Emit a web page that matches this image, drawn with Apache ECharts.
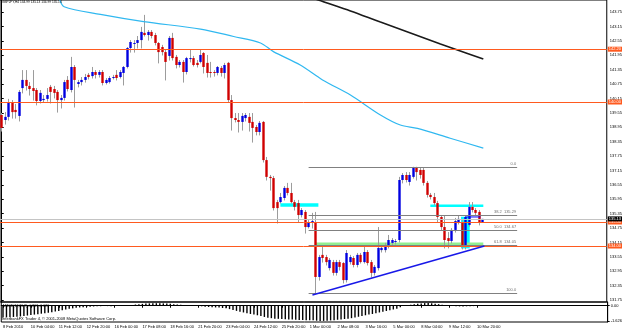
<!DOCTYPE html>
<html><head><meta charset="utf-8">
<script src="https://cdn.jsdelivr.net/npm/echarts@6/dist/echarts.min.js"></script>
<style>html,body{margin:0;padding:0;background:#fff}#c{width:625px;height:330px}</style>
</head><body><div id="c"></div>
<script>
// ---------- data ----------
const headerText = 'GBPJPY,H4 134.99 135.13 134.99 135.13';
const macdText = 'MACD(12,26,9) -0.863 -0.026';
const copyrightText = 'InterbankFX Trader 4, \u00a9 2001-2008 MetaQuotes Software Corp.';

const tickLabels = ['8 Feb 2010','10 Feb 04:00','11 Feb 12:00','12 Feb 20:00','16 Feb 00:00','17 Feb 08:00',
  '18 Feb 16:00','21 Feb 20:00','23 Feb 04:00','24 Feb 12:00','25 Feb 20:00','1 Mar 00:00','2 Mar 08:00',
  '3 Mar 16:00','5 Mar 00:00','8 Mar 04:00','9 Mar 12:00','10 Mar 20:00'];
const priceTicks = [131.75,132.35,132.95,133.55,134.15,134.75,135.35,135.95,136.55,137.15,137.75,
  138.35,138.95,139.55,140.15,140.75,141.35,141.95,142.55,143.15,143.75];
const macdTicks = [0.283, 0, -1.626];

const opens = [
139.46,139.25,139.38,140.00,139.67,139.42,140.58,140.92,140.67,140.58,
140.50,140.04,140.08,140.13,140.63,140.54,140.42,140.08,140.17,140.92,
140.50,141.46,140.75,140.83,140.92,141.13,141.08,141.25,141.13,141.25,
140.79,140.83,141.00,141.13,141.04,141.21,141.46,142.25,142.42,142.46,
142.58,142.88,142.79,142.92,142.79,142.46,142.29,142.08,141.92,142.67,
141.88,141.54,141.67,141.25,141.79,141.83,141.63,141.67,142.04,141.63,
141.25,141.25,141.21,141.42,141.21,141.63,140.08,139.33,139.25,139.17,
139.33,139.38,139.17,138.96,138.75,139.17,137.58,136.88,136.83,135.83,
135.83,136.00,136.42,136.21,135.83,135.79,135.29,135.42,134.79,135.00,
135.00,132.71,133.63,133.54,133.08,133.33,132.88,133.33,133.29,132.58,
133.33,133.50,133.21,133.63,133.33,133.75,133.33,132.88,133.08,133.83,
133.83,133.96,134.13,134.17,134.25,136.75,136.96,136.67,136.88,137.25,
137.17,137.17,136.63,136.13,136.04,135.79,135.21,134.79,134.33,134.21,
134.67,135.00,135.00,133.96,134.88,135.63,135.50,135.42,134.99];
const highs = [
139.54,139.58,140.13,140.08,139.92,140.50,141.33,141.33,140.83,141.33,
140.58,140.50,140.29,140.58,140.71,140.67,140.50,140.29,140.92,141.08,
141.88,141.54,140.92,141.04,141.17,141.21,141.46,141.33,141.33,141.33,
141.00,141.08,141.13,141.33,141.33,141.50,142.29,142.58,142.58,142.75,
143.13,143.63,143.00,143.00,142.88,142.50,142.38,142.17,142.75,142.88,
141.96,141.75,141.75,141.88,142.17,141.92,141.75,142.17,142.08,141.96,
141.67,141.33,141.50,141.50,141.63,141.67,140.29,139.54,139.54,139.54,
139.54,139.54,139.54,139.04,139.21,139.21,137.71,136.96,136.92,135.92,
136.21,136.50,136.63,136.63,135.92,135.92,135.58,135.50,135.08,135.38,
135.42,133.63,133.96,133.63,133.50,133.42,133.42,133.42,133.33,133.83,
133.63,133.58,133.71,133.71,134.04,133.83,133.42,133.21,134.79,134.04,
134.13,134.46,134.33,134.29,136.88,137.04,137.08,137.08,137.30,137.30,
137.29,137.25,136.71,136.21,136.21,135.88,135.29,135.29,134.58,134.75,
135.17,135.29,135.13,135.29,135.83,135.83,135.58,135.50,135.13];
const lows = [
138.79,139.08,139.25,139.33,139.33,139.21,140.38,140.50,140.29,140.08,
139.88,139.96,140.00,140.04,139.96,140.17,139.58,139.75,140.08,140.46,
140.42,139.79,140.63,140.71,140.83,140.96,141.00,141.00,141.04,140.71,
140.75,140.79,140.96,140.92,141.00,140.71,141.42,142.08,142.08,142.25,
142.25,142.75,142.58,142.67,142.38,141.63,141.96,140.92,141.75,141.75,
141.42,141.46,140.83,141.17,141.67,141.50,141.46,141.63,141.21,141.04,
141.04,141.08,141.13,141.08,141.00,140.00,138.83,139.17,138.75,138.83,
139.21,138.79,138.33,138.63,138.63,137.50,136.75,136.33,135.50,134.96,
135.79,135.92,136.13,135.79,135.50,135.00,135.21,134.54,134.75,134.75,
132.04,132.58,133.33,133.21,133.00,132.79,132.79,133.00,132.46,132.50,
133.25,133.13,133.13,133.29,133.29,133.21,132.71,132.79,133.00,133.75,
133.75,133.92,134.04,134.08,134.17,136.63,136.67,136.54,136.83,136.75,
136.83,136.54,136.04,135.96,135.71,135.00,134.67,133.92,133.92,134.13,
134.58,134.92,133.88,133.88,134.83,135.42,135.29,134.88,134.99];
const closes = [
138.92,139.38,140.00,139.58,139.58,140.42,140.92,140.67,140.54,140.46,
140.04,140.38,140.13,140.29,140.42,140.38,140.08,140.17,140.83,140.54,
141.46,140.92,140.83,140.92,141.04,141.04,141.25,141.13,141.25,140.79,
140.92,141.00,141.04,141.00,141.25,141.46,142.25,142.50,142.46,142.58,
142.92,142.79,142.92,142.75,142.46,142.08,142.08,141.67,142.67,141.83,
141.54,141.67,141.25,141.83,141.83,141.54,141.54,141.96,141.46,141.21,
141.21,141.21,141.46,141.21,141.54,140.08,139.33,139.25,139.17,139.42,
139.46,139.13,138.92,138.75,139.13,137.58,136.88,136.83,135.58,135.58,
136.04,136.42,136.21,135.83,135.63,135.29,135.50,134.79,135.00,135.04,
132.71,133.54,133.50,133.33,133.42,132.88,133.33,133.13,132.58,133.71,
133.54,133.21,133.63,133.33,133.75,133.29,132.88,133.13,133.92,133.92,
134.04,134.25,134.25,134.21,136.75,136.96,136.75,136.96,137.25,137.08,
136.96,136.63,136.13,136.04,135.79,135.21,134.79,134.25,134.21,134.67,
135.04,135.13,133.96,135.21,135.63,135.50,135.38,134.96,135.13];

const macdHist = [
-1.25,-1.25,-1.22,-1.2,-1.18,-1.15,-1.1,-1.05,-1.0,-0.95,-0.9,-0.85,-0.8,-0.75,-0.7,
-0.62,-0.55,-0.48,-0.4,-0.33,
-0.28,-0.22,-0.18,-0.15,-0.12,-0.1,-0.08,-0.06,-0.05,-0.04,-0.04,-0.05,-0.04,-0.03,-0.02,0.01,
0.05,0.09,0.13,0.17,0.2,0.23,0.25,0.27,0.27,0.26,0.25,0.23,0.2,
0.17,0.14,0.11,0.08,0.05,0.03,0.01,-0.02,
-0.06,-0.1,-0.13,-0.15,-0.18,-0.2,-0.24,-0.28,-0.36,-0.45,-0.55,
-0.65,-0.72,-0.8,-0.88,-0.95,-1.02,-1.1,-1.2,-1.28,-1.33,-1.38,-1.4,
-1.42,-1.45,-1.47,-1.48,-1.5,-1.52,-1.53,-1.54,-1.55,-1.56,-1.6,-1.626,-1.62,-1.6,-1.57,-1.54,-1.5,-1.46,-1.42,-1.38,-1.33,
-1.25,-1.18,-1.1,-1.02,-0.95,-0.88,-0.8,-0.72,-0.64,-0.56,-0.48,-0.4,-0.32,-0.15,0.0,
0.06,0.11,0.16,0.21,0.25,0.283,0.28,0.26,0.22,0.17,0.11,0.06,
0.03,-0.02,-0.05,-0.07,-0.08,-0.06,-0.05,-0.04,-0.03,-0.03,-0.026];

// moving averages: [bar, price] points
const maFast = [[16.5,144.32],[17.9,143.97],[28.3,143.65],[40.7,143.35],[57,143.04],[66.5,142.73],
  [74.2,142.46],[77.9,142.10],[85.6,141.54],[92,140.92],[100,140.29],[108.6,139.46],[114.3,139.04],
  [119.2,138.90],[128.6,138.49],[138.1,138.08]];
const maSlow = [[88,144.40],[90.8,144.25],[100,143.79],[108.6,143.33],[117.2,142.88],[125.8,142.42],
  [131.5,142.13],[138.1,141.79]];

// drawn objects
const levelLines = [142.20, 140.00, 135.00, 134.00];
const bidPrice = 135.13;
const fibHigh = 137.30, fibLow = 132.04, fibFrom = 88, fibTo = 147.8;
const fibRatios = [0, 38.2, 50, 61.8, 100];
const trendLine = [[89.1, 131.96], [138.4, 134.00]];
const blueSegment = [[133, 135.21], [137.3, 135.21]];
const cyanZones = [[79.9, 90.8, 135.64, 135.78], [122.9, 138.1, 135.625, 135.73], [131.7, 134.2, 133.90, 135.22]];
const greenZones = [[89.9, 138.1, 134.04, 134.15]];

// ---------- chart ----------
const SLOTS = 174;
const slotNames = Array.from({length: SLOTS}, (_, i) => String(i));
const FONT = '"Liberation Sans", Arial, sans-serif';
const candleData = opens.map((o, i) => [i, o, closes[i], lows[i], highs[i]]);
const fibLevels = fibRatios.map(r => ({ r, p: fibHigh - (fibHigh - fibLow) * r / 100 }));
const labelAt = idx => idx % 8 === 0 && idx <= 136;

function zoneSeries(data, color) {
  return {
    type: 'custom', xAxisIndex: 0, yAxisIndex: 0, z: 1, silent: true, clip: true,
    data: data,
    renderItem: (params, api) => {
      const a = api.coord([api.value(0), api.value(3)]);
      const b = api.coord([api.value(1), api.value(2)]);
      return { type: 'rect', shape: { x: a[0], y: a[1], width: b[0] - a[0], height: b[1] - a[1] },
               style: { fill: color } };
    }
  };
}

const levelMarks = levelLines.map(v => ({ yAxis: v,
  lineStyle: { color: '#FF5A1F', width: 1, type: 'solid' },
  label: { show: true, position: 'end', distance: 1, formatter: v.toFixed(2), color: '#fff',
           backgroundColor: '#FF5A1F', padding: [1, 1, 0, 1], fontSize: 4, fontFamily: FONT } }));
levelMarks.unshift({ yAxis: bidPrice, lineStyle: { color: '#C4C4C4', width: 1, type: 'solid' },
  label: { show: false } });
const bidLabel = { yAxis: bidPrice, lineStyle: { color: '#C4C4C4', width: 1, type: 'solid' },
  label: { show: true, position: 'end', distance: 1, formatter: bidPrice.toFixed(2), color: '#fff',
           backgroundColor: '#000', padding: [1, 1, 0, 1], fontSize: 4, fontFamily: FONT } };

const fibMarks = fibLevels.map(f => [
  { coord: [fibFrom, f.p], lineStyle: { color: '#808080', width: 1, type: 'solid' },
    label: { show: true, position: 'insideEndTop', distance: 1, color: '#707070', fontSize: 4, fontFamily: FONT,
      formatter: (f.r === 0 || f.r === 100) ? f.r.toFixed(1) : f.r.toFixed(1) + '  ' + f.p.toFixed(2) } },
  { coord: [fibTo, f.p] }
]);

const option = {
  animation: false,
  backgroundColor: '#fff',
  grid: [
    { left: 0, top: 0, width: 609, height: 302, show: true, borderColor: '#000', borderWidth: 1 },
    { left: 0, top: 302, width: 609, height: 20, show: true, borderColor: '#000', borderWidth: 1 }
  ],
  xAxis: [
    { type: 'value', gridIndex: 0, min: -0.5, max: SLOTS - 0.5, show: false },
    { type: 'category', gridIndex: 1, data: slotNames, boundaryGap: true, position: 'bottom',
      axisLine: { show: true, lineStyle: { color: '#000' } },
      axisTick: { show: true, interval: labelAt, alignWithLabel: true, length: 2, lineStyle: { color: '#000' } },
      axisLabel: { interval: labelAt, formatter: (v, idx) => tickLabels[idx / 8] || '', align: 'left',
                   fontSize: 4, fontFamily: FONT, color: '#000', margin: 3 },
      splitLine: { show: false } }
  ],
  yAxis: [
    { type: 'value', gridIndex: 0, position: 'right', min: 131.667, max: 144.25,
      axisLine: { show: true, lineStyle: { color: '#000' } },
      axisTick: { show: true, length: 2, customValues: priceTicks, lineStyle: { color: '#000' } },
      axisLabel: { customValues: priceTicks, formatter: v => v.toFixed(2), fontSize: 4, fontFamily: FONT,
                   color: '#000', margin: 3 },
      splitLine: { show: false } },
    { type: 'value', gridIndex: 1, position: 'right', min: -1.74, max: 0.40,
      axisLine: { show: true, lineStyle: { color: '#000' } },
      axisTick: { show: true, length: 2, customValues: macdTicks, lineStyle: { color: '#000' } },
      axisLabel: { customValues: macdTicks, formatter: v => (v === 0 ? '0.00' : String(v)), fontSize: 4,
                   fontFamily: FONT, color: '#000', margin: 3 },
      splitLine: { show: false } }
  ],
  series: [
    zoneSeries(cyanZones, '#00FFFF'),
    zoneSeries(greenZones, '#90EE90'),
    { type: 'custom', xAxisIndex: 0, yAxisIndex: 0, z: 3, clip: true, silent: true,
      data: candleData,
      renderItem: (params, api) => {
        const i = api.value(0), o = api.value(1), c = api.value(2), l = api.value(3), h = api.value(4);
        const pH = api.coord([i, h]), pL = api.coord([i, l]);
        const pO = api.coord([i, o]), pC = api.coord([i, c]);
        const x = Math.round(pH[0] - 0.5) + 0.5;
        const top = Math.min(pO[1], pC[1]);
        const ht = Math.max(1, Math.abs(pO[1] - pC[1]));
        const bw = 2.4;
        return { type: 'group', children: [
          { type: 'line', shape: { x1: x, y1: pH[1], x2: x, y2: pL[1] + 0.5 }, style: { stroke: '#9c9c9c', lineWidth: 1 } },
          { type: 'rect', shape: { x: x - bw / 2, y: top, width: bw, height: ht },
            style: { fill: c >= o ? '#0000E0' : '#D00000' } }
        ] };
      } },
    { type: 'line', xAxisIndex: 0, yAxisIndex: 0, z: 4, data: maFast, showSymbol: false, smooth: 0.3,
      silent: true, clip: true, lineStyle: { color: '#30B8F0', width: 1.2 } },
    { type: 'line', xAxisIndex: 0, yAxisIndex: 0, z: 4, data: maSlow, showSymbol: false, smooth: 0.3,
      silent: true, clip: true, lineStyle: { color: '#1a1a1a', width: 1.6 } },
    { type: 'line', xAxisIndex: 0, yAxisIndex: 0, z: 5, data: blueSegment, showSymbol: false,
      silent: true, lineStyle: { color: '#0000FF', width: 1 } },
    { type: 'line', xAxisIndex: 0, yAxisIndex: 0, z: 5, data: trendLine, showSymbol: false,
      silent: true, lineStyle: { color: '#1818E8', width: 1.5 },
      markLine: { silent: true, animation: false, symbol: ['none', 'none'],
                  data: levelMarks.concat(fibMarks).concat([bidLabel]) } },
    { type: 'bar', xAxisIndex: 1, yAxisIndex: 1, data: macdHist, barWidth: 1.4, silent: true,
      itemStyle: { color: '#000' } }
  ],
  graphic: [
    { type: 'text', left: 2, top: 1, z: 100, silent: true,
      style: { text: headerText, fontSize: 3.2, fontFamily: FONT, fill: '#000' } },
    { type: 'text', left: 3, top: 304, z: 100, silent: true,
      style: { text: macdText, fontSize: 3.5, fontFamily: FONT, fill: '#000' } },
    { type: 'text', left: 2, top: 316.6, z: 100, silent: true,
      style: { text: copyrightText, fontSize: 4, fontFamily: FONT, fill: '#000' } }
  ]
};

const chart = echarts.init(document.getElementById('c'), null, { renderer: 'canvas', width: 625, height: 330 });
chart.setOption(option);
</script>
</body></html>
